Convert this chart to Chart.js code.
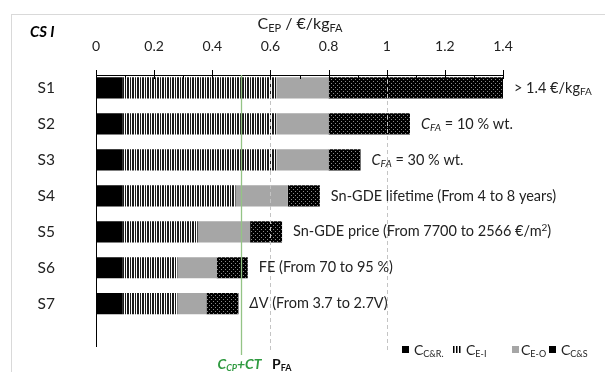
<!DOCTYPE html>
<html>
<head>
<meta charset="utf-8">
<script src="https://cdn.jsdelivr.net/npm/chart.js@4.4.1/dist/chart.umd.min.js"></script>
<style>
  html, body { margin: 0; padding: 0; background: #fff; }
  #wrap { width: 605px; height: 372px; position: relative; }
</style>
</head>
<body>
<div id="wrap"><canvas id="c" width="605" height="372"></canvas></div>
<script>
// scenarios and cost parts (€/kg FA)
const scenarios = ['S1', 'S2', 'S3', 'S4', 'S5', 'S6', 'S7'];
const costCR = [0.09, 0.09, 0.09, 0.09, 0.09, 0.09, 0.09];
const costEI = [0.53, 0.53, 0.53, 0.39, 0.26, 0.19, 0.19];
const costEO = [0.18, 0.18, 0.18, 0.18, 0.18, 0.135, 0.10];
const costCS = [0.60, 0.28, 0.11, 0.11, 0.11, 0.107, 0.11];
const xTickLabels = ['0', '0.2', '0.4', '0.6', '0.8', '1', '1.2', '1.4'];
const cpLine = 0.5;        // C_CP + CT
const pfaLines = [0.6, 1.0];

// notes next to each bar: [text, style] ; style n / i / sub / isub / sup
const notes = [
  [['> 1.4 €/kg', 'n'], ['FA', 'sub']],
  [['C', 'i'], ['FA', 'isub'], [' = 10 % wt.', 'n']],
  [['C', 'i'], ['FA', 'isub'], [' = 30 % wt.', 'n']],
  [['Sn-GDE lifetime (From 4 to 8 years)', 'n']],
  [['Sn-GDE price (From 7700 to 2566 €/m', 'n'], ['2', 'sup'], [')', 'n']],
  [['FE (From 70 to 95 %)', 'n']],
  [['Δ', 'i'], ['V (From 3.7 to 2.7V)', 'n']]
];

const FONT = 'Lato, "Open Sans", sans-serif';
const ctx0 = document.getElementById('c').getContext('2d');

function makePattern(w, h, draw) {
  const c = document.createElement('canvas');
  c.width = w; c.height = h;
  draw(c.getContext('2d'));
  return ctx0.createPattern(c, 'repeat');
}
const stripes = makePattern(5, 4, g => {
  g.fillStyle = '#fff'; g.fillRect(0, 0, 5, 4);
  g.fillStyle = '#1a1a1a'; g.fillRect(0, 0, 1, 4); g.fillRect(2, 0, 2, 4);
});
const dots = makePattern(4, 4, g => {
  g.fillStyle = '#000'; g.fillRect(0, 0, 4, 4);
  g.fillStyle = '#8a8a8a'; g.fillRect(1, 1, 1, 1); g.fillRect(3, 3, 1, 1);
});

function styleFont(s, size) {
  const small = (s === 'sub' || s === 'isub' || s === 'sup');
  const it = (s === 'i' || s === 'isub') ? 'italic ' : '';
  return it + (small ? Math.round(size * 0.66) : size) + 'px ' + FONT;
}
function richWidth(ctx, parts, size, bold) {
  let w = 0;
  parts.forEach(p => { ctx.font = (bold || '') + styleFont(p[1], size); w += ctx.measureText(p[0]).width; });
  return w;
}
function drawRich(ctx, parts, x, y, size, color, align, bold) {
  if (align === 'center') x -= richWidth(ctx, parts, size, bold) / 2;
  ctx.fillStyle = color;
  ctx.textBaseline = 'middle';
  ctx.textAlign = 'left';
  parts.forEach(p => {
    ctx.font = (bold || '') + styleFont(p[1], size);
    let dy = 0;
    if (p[1] === 'sub' || p[1] === 'isub') dy = size * 0.28;
    if (p[1] === 'sup') dy = -size * 0.3;
    ctx.fillText(p[0], x, y + dy);
    x += ctx.measureText(p[0]).width;
  });
}

const extras = {
  id: 'extras',
  afterDraw(chart) {
    const ctx = chart.ctx;
    const xs = chart.scales.x, ys = chart.scales.y;
    const axisY = 75;
    ctx.save();
    // outer frame
    ctx.strokeStyle = '#d9d9d9'; ctx.lineWidth = 1;
    ctx.strokeRect(11.5, 14.5, 700, 500);

    // axis lines and ticks
    ctx.strokeStyle = '#000';
    ctx.beginPath();
    ctx.moveTo(xs.left, axisY + 0.5); ctx.lineTo(xs.right, axisY + 0.5);
    ctx.moveTo(xs.left + 0.5, axisY); ctx.lineTo(xs.left + 0.5, 347);
    for (let v = 0; v <= 1.4001; v += 0.1) {
      const px = Math.round(xs.getPixelForValue(v)) + 0.5;
      const major = Math.round(v * 10) % 2 === 0;
      ctx.moveTo(px, major ? axisY - 5 : axisY);
      ctx.lineTo(px, axisY + 4);
    }
    ctx.stroke();

    // reference lines
    ctx.strokeStyle = '#c4c4c4'; ctx.setLineDash([4, 3]);
    pfaLines.forEach(v => {
      const px = Math.round(xs.getPixelForValue(v)) + 0.5;
      ctx.beginPath(); ctx.moveTo(px, axisY + 5); ctx.lineTo(px, 352); ctx.stroke();
    });
    ctx.setLineDash([]);
    ctx.strokeStyle = '#94c486'; ctx.lineWidth = 1.3;
    const gx = Math.round(xs.getPixelForValue(cpLine)) + 0.5;
    ctx.beginPath(); ctx.moveTo(gx, axisY); ctx.lineTo(gx, 355); ctx.stroke();

    // title and corner label
    drawRich(ctx, [['C', 'n'], ['EP', 'sub'], [' / €/kg', 'n'], ['FA', 'sub']], 300, 24, 16, '#222', 'center');
    ctx.font = 'italic bold 15px ' + FONT; ctx.fillStyle = '#000';
    ctx.textAlign = 'left'; ctx.textBaseline = 'middle';
    ctx.fillText('CS I', 30, 32);

    // notes beside bars
    scenarios.forEach((s, i) => {
      const total = costCR[i] + costEI[i] + costEO[i] + costCS[i];
      const px = xs.getPixelForValue(Math.min(total, 1.4)) + 11;
      drawRich(ctx, notes[i], px, ys.getPixelForValue(i), 14.5, '#222', 'left');
    });

    // line labels
    drawRich(ctx, [['C', 'n'], ['CP', 'sub'], ['+CT', 'n']], gx - 2, 364, 14, '#2f9a40', 'center', 'italic bold ');
    drawRich(ctx, [['P', 'n'], ['FA', 'sub']], 272, 364, 14, '#111', 'left', 'bold ');

    // legend
    const ly = 350;
    ctx.fillStyle = '#000'; ctx.fillRect(402, ly - 4, 7, 7);
    drawRich(ctx, [['C', 'n'], ['C&R.', 'sub']], 414, ly, 14, '#222', 'left');
    ctx.fillStyle = '#000';
    [453, 456, 459].forEach(x0 => ctx.fillRect(x0, ly - 4, 1.5, 7));
    drawRich(ctx, [['C', 'n'], ['E-I', 'sub']], 466, ly, 14, '#222', 'left');
    ctx.fillStyle = '#a6a6a6'; ctx.fillRect(512, ly - 4, 7, 7);
    drawRich(ctx, [['C', 'n'], ['E-O', 'sub']], 521, ly, 14, '#222', 'left');
    ctx.fillStyle = '#000'; ctx.fillRect(549, ly - 4, 7, 7);
    drawRich(ctx, [['C', 'n'], ['C&S', 'sub']], 561, ly, 14, '#222', 'left');
    ctx.restore();
  }
};

const barOpts = { barPercentage: 0.59, categoryPercentage: 1.0, borderWidth: 0 };

new Chart(ctx0, {
  type: 'bar',
  data: {
    labels: scenarios,
    datasets: [
      { label: 'C_C&R', data: costCR, backgroundColor: '#000', ...barOpts },
      { label: 'C_E-I', data: costEI, backgroundColor: stripes, ...barOpts },
      { label: 'C_E-O', data: costEO, backgroundColor: '#a6a6a6', ...barOpts },
      { label: 'C_C&S', data: costCS, backgroundColor: dots, ...barOpts }
    ]
  },
  options: {
    indexAxis: 'y',
    responsive: false,
    animation: false,
    layout: { padding: { left: 0, right: 102, top: 0, bottom: 28 } },
    plugins: { legend: { display: false }, tooltip: { enabled: false } },
    scales: {
      x: {
        position: 'top',
        stacked: true,
        min: 0, max: 1.4,
        afterFit: s => { s.height = 70; },
        grid: { display: false, drawTicks: false },
        border: { display: false },
        ticks: {
          stepSize: 0.2,
          padding: 15,
          color: '#222',
          font: { family: FONT, size: 14 },
          callback: (v, i) => xTickLabels[i]
        }
      },
      y: {
        stacked: true,
        afterFit: s => { s.width = 96; },
        grid: { display: false, drawTicks: false },
        border: { display: false },
        ticks: { padding: 41, color: '#222', font: { family: FONT, size: 15.5 } }
      }
    }
  },
  plugins: [extras]
});
</script>
</body>
</html>
